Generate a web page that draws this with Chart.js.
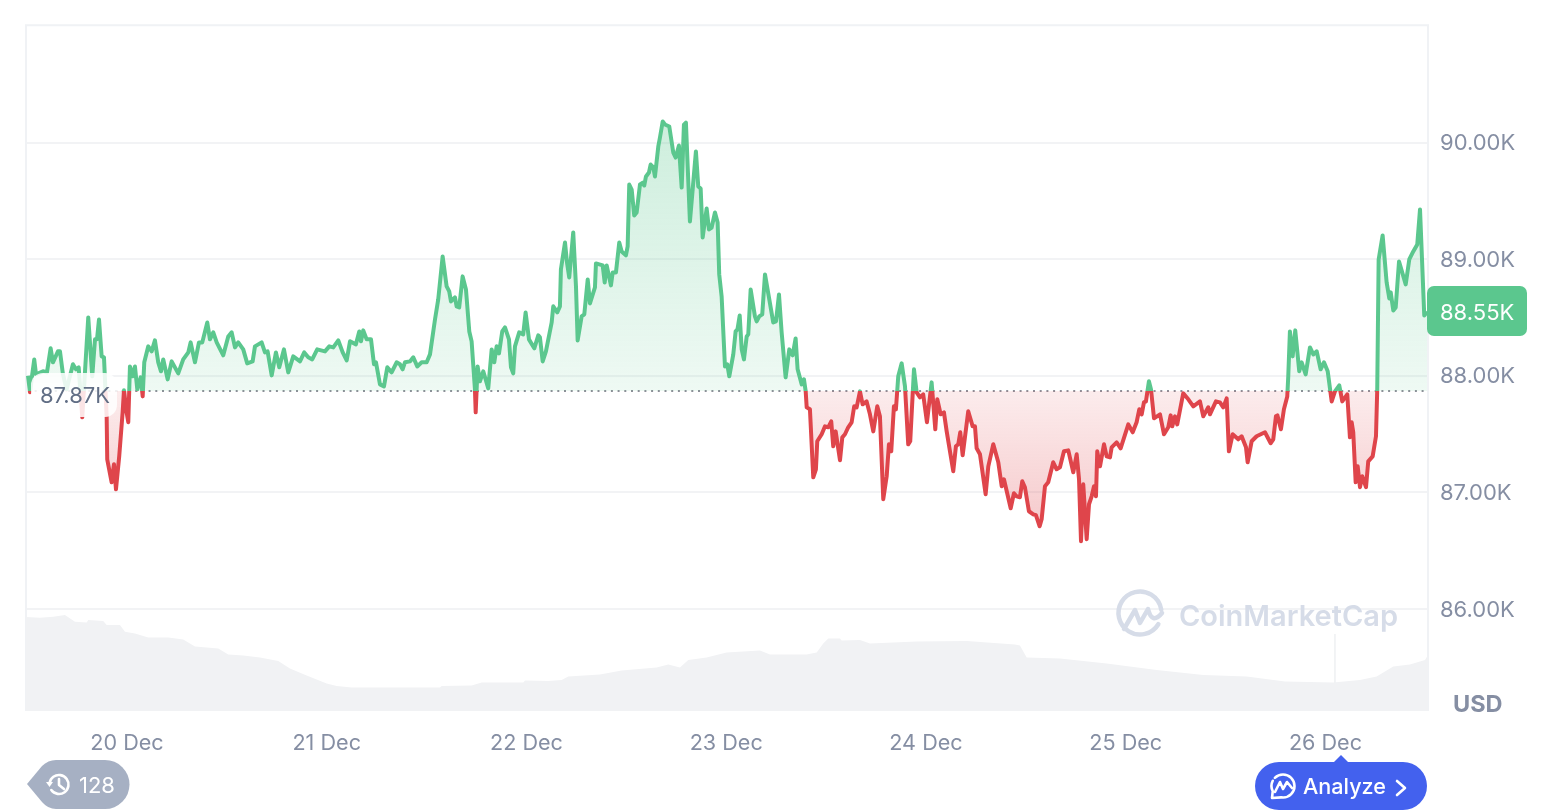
<!DOCTYPE html>
<html>
<head>
<meta charset="utf-8">
<title>BTC price chart</title>
<script src="https://cdn.jsdelivr.net/npm/chart.js@4/dist/chart.umd.min.js"></script>
<style>
    html, body { margin: 0; padding: 0; background: #fff; overflow: hidden; }
    canvas { display: block; }
</style>
</head>
<body>
<canvas id="priceChart" width="1544" height="812"></canvas>
<script>
// Hours counted from 20 Dec 00:00
const priceHours = [
    -11.89, -11.65, -11.41, -11.14, -10.93, -10.09, -9.61, -9.17, -8.89, -8.29,
    -8.05, -7.69, -7.25, -6.49, -6.13, -5.80, -5.37, -5.17, -4.65, -4.17,
    -3.84, -3.60, -3.36, -3.04, -2.76, -2.44, -2.37, -1.84, -1.56, -1.32,
    -0.93, -0.52, -0.36, -0.04, 0.16, 0.36, 0.68, 0.96, 1.24, 1.65,
    1.89, 2.08, 2.56, 2.97, 3.36, 3.76, 4.09, 4.36, 4.89, 5.37,
    6.16, 6.76, 7.37, 7.65, 8.17, 8.65, 9.05, 9.65, 9.97, 10.37,
    10.78, 11.57, 12.17, 12.58, 12.98, 13.37, 13.97, 14.45, 15.10, 15.38,
    16.18, 16.58, 16.90, 17.39, 17.90, 18.30, 18.86, 19.38, 19.98, 20.79,
    21.30, 21.78, 22.26, 22.86, 23.79, 24.31, 24.79, 25.39, 25.92, 26.40,
    26.80, 27.51, 27.91, 28.12, 28.39, 28.80, 29.32, 29.68, 29.92, 30.40,
    30.88, 31.28, 31.80, 32.40, 32.80, 33.12, 33.40, 34.00, 34.40, 34.88,
    35.41, 36.01, 36.41, 37.01, 37.40, 37.93, 38.41, 38.72, 38.93, 39.41,
    39.61, 39.92, 40.33, 40.73, 41.13, 41.41, 41.81, 41.90, 42.13, 42.41,
    42.81, 43.41, 43.82, 44.13, 44.42, 44.70, 45.09, 45.42, 45.90, 46.14,
    46.41, 46.62, 47.13, 47.61, 47.90, 48.30, 48.94, 49.42, 49.62, 49.95,
    50.34, 51.03, 51.22, 51.70, 52.02, 52.14, 52.63, 52.87, 53.14, 53.62,
    53.95, 54.15, 54.63, 54.95, 55.36, 55.63, 56.23, 56.35, 57.16, 57.40,
    57.64, 58.15, 58.36, 58.75, 59.15, 59.44, 59.95, 60.16, 60.35, 60.64,
    60.95, 61.24, 61.64, 62.03, 62.15, 62.36, 62.72, 62.92, 63.24, 63.44,
    63.84, 64.04, 64.37, 64.64, 65.16, 65.64, 65.93, 66.32, 66.65, 66.92,
    67.16, 67.64, 68.36, 68.64, 68.93, 69.17, 69.65, 69.93, 70.25, 70.65,
    70.97, 71.16, 71.45, 71.85, 72.13, 72.37, 72.85, 73.13, 73.35, 73.62,
    73.86, 74.13, 74.46, 74.65, 74.94, 75.45, 75.66, 75.97, 76.33, 76.66,
    77.65, 77.98, 78.34, 78.66, 79.14, 79.58, 79.98, 80.34, 80.58, 81.07,
    81.34, 81.55, 81.67, 82.06, 82.46, 82.78, 82.94, 83.47, 83.87, 84.26,
    84.62, 84.86, 85.15, 85.67, 85.95, 86.27, 86.66, 87.07, 87.38, 87.67,
    88.07, 88.39, 88.87, 89.27, 89.67, 90.15, 90.47, 90.87, 91.28, 91.55,
    91.83, 92.15, 92.39, 92.67, 93.08, 93.48, 93.87, 94.11, 94.56, 94.88,
    95.28, 95.67, 96.12, 96.68, 97.12, 97.36, 97.77, 98.16, 98.49, 99.28,
    99.60, 99.88, 100.12, 100.41, 101.08, 101.61, 101.89, 102.09, 102.49, 103.17,
    103.49, 104.09, 104.69, 105.10, 105.37, 106.18, 106.57, 106.90, 107.29, 107.57,
    107.89, 108.37, 108.89, 109.21, 109.66, 109.90, 110.30, 110.69, 111.29, 111.70,
    112.10, 112.58, 113.10, 113.70, 114.11, 114.39, 114.63, 114.90, 115.31, 115.59,
    115.91, 116.19, 116.43, 116.58, 116.91, 117.39, 117.71, 118.11, 118.31, 118.91,
    119.39, 120.31, 120.84, 121.31, 121.63, 121.92, 122.19, 122.43, 122.79, 123.04,
    123.40, 124.12, 124.60, 125.11, 125.40, 125.59, 125.92, 126.19, 126.91, 127.52,
    128.12, 128.92, 129.32, 129.92, 130.12, 130.84, 131.32, 131.72, 132.13, 132.40,
    132.85, 133.52, 133.93, 134.45, 134.65, 135.13, 135.73, 136.73, 137.42, 137.73,
    138.05, 138.23, 138.65, 139.01, 139.41, 139.53, 139.73, 140.06, 140.37, 140.85,
    141.14, 141.62, 142.14, 142.54, 142.95, 143.42, 143.82, 144.27, 144.75, 145.14,
    145.66, 146.02, 146.62, 146.94, 147.15, 147.34, 147.63, 147.87, 148.15, 148.42,
    148.87, 149.14, 149.67, 150.07, 150.22, 150.39, 150.87, 151.35, 151.67, 151.84,
    152.15, 152.44, 152.84, 153.64, 154.07, 154.55, 155.03, 155.36, 155.87, 156.23
];
const priceValues = [
    88000, 87859, 87996, 88141, 88013, 88039, 88030, 88236, 88116, 88210,
    88210, 88013, 87884, 88099, 88056, 88073, 87644, 87884, 88501, 87996,
    88313, 88313, 88484, 88167, 88159, 87653, 87284, 87087, 87242, 87027,
    87310, 87687, 87876, 87687, 87602, 88081, 87996, 88081, 87884, 87987,
    87824, 88116, 88253, 88210, 88304, 88116, 88039, 88141, 87970, 88124,
    88021, 88141, 88201, 88287, 88116, 88287, 88287, 88458, 88313, 88373,
    88287, 88176, 88338, 88373, 88244, 88287, 88227, 88107, 88124, 88253,
    88287, 88201, 88210, 88004, 88201, 88073, 88227, 88030, 88167, 88124,
    88201, 88159, 88141, 88227, 88210, 88253, 88244, 88304, 88201, 88133,
    88296, 88270, 88381, 88296, 88390, 88313, 88313, 88099, 88116, 87927,
    87910, 88073, 88030, 88116, 88099, 88056, 88116, 88124, 88159, 88081,
    88116, 88116, 88184, 88484, 88656, 89024, 88767, 88724, 88638, 88673,
    88596, 88587, 88853, 88741, 88381, 88296, 87884, 87687, 88081, 87953,
    88039, 87893, 88227, 88116, 88253, 88193, 88381, 88416, 88313, 88073,
    88021, 88253, 88373, 88356, 88544, 88313, 88236, 88347, 88330, 88124,
    88210, 88458, 88596, 88544, 88596, 88913, 89144, 88973, 88844, 89230,
    88767, 88304, 88510, 88527, 88827, 88621, 88758, 88964, 88947, 88801,
    88947, 88776, 88887, 88887, 89144, 89067, 89033, 89110, 89641, 89598,
    89375, 89401, 89641, 89658, 89632, 89710, 89744, 89812, 89787, 89710,
    89967, 90044, 90181, 90155, 90138, 89915, 89872, 89975, 89615, 90155,
    90172, 89324, 89924, 89624, 89607, 89187, 89435, 89255, 89272, 89401,
    89315, 88870, 88681, 88081, 88099, 87996, 88184, 88381, 88398, 88518,
    88227, 88141, 88338, 88356, 88741, 88510, 88467, 88510, 88527, 88870,
    88458, 88467, 88698, 88373, 87987, 88227, 88176, 88321, 88056, 87927,
    87970, 87867, 87730, 87713, 87130, 87199, 87439, 87499, 87567, 87559,
    87610, 87396, 87524, 87276, 87473, 87499, 87559, 87602, 87739, 87730,
    87867, 87756, 87781, 87670, 87524, 87739, 87653, 86942, 87139, 87413,
    87353, 87739, 87713, 87996, 88107, 87910, 87413, 87439, 88056, 87859,
    87816, 87841, 87602, 87944, 87542, 87799, 87670, 87687, 87524, 87182,
    87396, 87413, 87516, 87319, 87696, 87567, 87567, 87379, 87327, 86985,
    87224, 87413, 87259, 87053, 87113, 86865, 86993, 86967, 86959, 87096,
    87045, 86839, 86813, 86805, 86710, 86770, 87053, 87087, 87259, 87199,
    87216, 87353, 87361, 87173, 87327, 87113, 86582, 87070, 86599, 86899,
    86967, 87053, 86967, 87353, 87224, 87413, 87310, 87301, 87387, 87430,
    87379, 87584, 87516, 87602, 87713, 87670, 87773, 87781, 87953, 87884,
    87636, 87670, 87499, 87559, 87661, 87567, 87653, 87584, 87850, 87799,
    87739, 87781, 87653, 87730, 87670, 87781, 87773, 87730, 87807, 87353,
    87499, 87456, 87482, 87387, 87259, 87439, 87482, 87516, 87422, 87456,
    87653, 87661, 87542, 87713, 87824, 87996, 88381, 88167, 88390, 88039,
    88116, 88013, 88244, 88184, 88210, 88056, 88116, 88039, 87781, 87867,
    87919, 87781, 87841, 87473, 87602, 87516, 87087, 87224, 87045, 87139,
    87045, 87267, 87310, 87482, 87884, 88998, 89204, 88801, 88664, 88716,
    88561, 88587, 88981, 88784, 88998, 89067, 89127, 89427, 88518, 88550
];

// Volume strip at the bottom (billions, estimated)
const volumeHours = [
    -12.13, -10.45, -8.85, -7.45, -6.25, -4.84, -4.65, -2.85, -2.44, -0.84,
    -0.24, 0.96, 2.56, 4.96, 6.76, 8.17, 10.97, 12.17, 13.97, 15.98,
    18.18, 19.58, 21.59, 23.99, 25.20, 27.00, 37.61, 37.81, 41.42, 42.62,
    44.82, 47.62, 47.82, 50.62, 52.23, 53.02, 56.83, 59.44, 63.64, 65.04,
    66.44, 67.44, 69.65, 72.05, 76.05, 77.26, 81.66, 82.87, 83.66, 84.26,
    85.67, 85.87, 88.07, 89.27, 94.88, 100.89, 106.69, 107.29, 108.10, 112.10,
    117.71, 123.72, 129.32, 134.53, 139.13, 144.94, 148.15, 150.15, 152.15, 154.15,
    155.96, 156.32
];
const volumeValues = [
    47, 46.6, 47.1, 48, 44.6, 44.3, 45.5, 45, 43, 43,
    39.6, 38.8, 36.7, 36.7, 35.8, 32.2, 31.3, 28.3, 27.7, 26.7,
    25, 21.3, 17.7, 13.8, 12.5, 11.7, 11.7, 12.5, 12.7, 14.2,
    14.3, 14.3, 15.3, 15, 15.5, 17.2, 18.3, 20.2, 21.7, 23.3,
    21.7, 25.5, 26.7, 29.3, 30.3, 28.3, 28.3, 29.3, 33.8, 36.3,
    36.3, 35.3, 35.5, 33.8, 34.7, 35, 33.3, 32.7, 26.7, 26.3,
    23.8, 20.5, 18, 17.2, 14.7, 14.3, 15.5, 17.2, 22.2, 23.3,
    25.5, 28
];
const spikeHour = 145.14;
const spikeVolumes = [14, 38.5];

const basePrice = 87870;
const lastPrice = 88550;
const priceTicks = [86000, 87000, 88000, 89000, 90000];
const dayTicks = [0, 24, 48, 72, 96, 120, 144];
const dayLabels = ['20 Dec', '21 Dec', '22 Dec', '23 Dec', '24 Dec', '25 Dec', '26 Dec'];

const GREEN = '#5bc78e';
const RED = '#df454b';
const TICK = '#858ea3';
const FONT = 'Inter, sans-serif';

function kLabel(v) {
    return (v / 1000).toFixed(2) + 'K';
}

function roundBox(ctx, x, y, w, h, r, color) {
    ctx.fillStyle = color;
    ctx.beginPath();
    ctx.roundRect(x, y, w, h, r);
    ctx.fill();
}

// Watermark, the logo and name sit under the line
function drawWatermark(ctx) {
    ctx.save();
    ctx.strokeStyle = '#d6dce8';
    ctx.lineWidth = 4.5;
    ctx.lineCap = 'round';
    ctx.lineJoin = 'round';
    ctx.beginPath();
    ctx.arc(1140, 613, 21.5, 0.55, Math.PI * 2 - 0.15);
    ctx.stroke();
    ctx.beginPath();
    ctx.moveTo(1124, 629);
    ctx.lineTo(1135, 610);
    ctx.lineTo(1140, 623);
    ctx.lineTo(1148, 609);
    ctx.quadraticCurveTo(1152, 625, 1162, 613);
    ctx.stroke();
    ctx.fillStyle = '#d6dce8';
    ctx.font = '600 29px ' + FONT;
    ctx.textAlign = 'left';
    ctx.textBaseline = 'middle';
    ctx.fillText('CoinMarketCap', 1179, 617);
    ctx.restore();
}

const framePlugin = {
    id: 'frame',
    beforeDatasetsDraw: (chart) => {
        const ctx = chart.ctx;
        const a = chart.chartArea;
        ctx.save();
        ctx.strokeStyle = '#f0f2f5';
        ctx.lineWidth = 2;
        ctx.beginPath();
        ctx.moveTo(a.left, a.bottom);
        ctx.lineTo(a.left, a.top);
        ctx.lineTo(a.right, a.top);
        ctx.lineTo(a.right, a.bottom);
        ctx.stroke();
        ctx.restore();
        drawWatermark(ctx);
    }
};

// Labels and buttons around the plot
const badgesPlugin = {
    id: 'badges',
    afterDraw: (chart) => {
        const ctx = chart.ctx;
        const y = chart.scales.y;
        ctx.save();
        ctx.textBaseline = 'middle';
        ctx.textAlign = 'left';

        // start price label over the line
        roundBox(ctx, 31, 373, 86, 44, 12, 'rgba(255,255,255,0.86)');
        ctx.fillStyle = '#616e85';
        ctx.font = '22px ' + FONT;
        ctx.fillText(kLabel(basePrice), 40, 396);

        // last price label
        roundBox(ctx, 1427, 286, 100, 50, 7, GREEN);
        ctx.fillStyle = '#fff';
        ctx.fillText(kLabel(lastPrice), 1440, y.getPixelForValue(lastPrice) + 2);

        ctx.fillStyle = TICK;
        ctx.font = '700 23.5px ' + FONT;
        ctx.fillText('USD', 1453, 705);

        // 128 tag
        ctx.fillStyle = '#a6b0c3';
        ctx.beginPath();
        ctx.moveTo(27, 784);
        ctx.lineTo(42, 766);
        ctx.quadraticCurveTo(48, 760, 56, 760);
        ctx.lineTo(105, 760);
        ctx.arc(105, 784.5, 24.5, -Math.PI / 2, Math.PI / 2);
        ctx.lineTo(56, 809);
        ctx.quadraticCurveTo(48, 809, 42, 802);
        ctx.closePath();
        ctx.fill();
        ctx.strokeStyle = '#fff';
        ctx.lineWidth = 2.6;
        ctx.lineCap = 'round';
        ctx.lineJoin = 'round';
        ctx.beginPath();
        ctx.arc(59, 784.5, 9.5, Math.PI * 1.05, Math.PI * 0.8);
        ctx.stroke();
        ctx.beginPath();
        ctx.moveTo(59, 779);
        ctx.lineTo(59, 785);
        ctx.lineTo(64, 789);
        ctx.stroke();
        ctx.fillStyle = '#fff';
        ctx.beginPath();
        ctx.moveTo(46, 782);
        ctx.lineTo(53, 782);
        ctx.lineTo(49.5, 787);
        ctx.closePath();
        ctx.fill();
        ctx.font = '22px ' + FONT;
        ctx.fillText('128', 79, 786);

        // Analyze button
        ctx.fillStyle = '#4361ee';
        ctx.beginPath();
        ctx.moveTo(1334, 762);
        ctx.lineTo(1341, 755);
        ctx.lineTo(1348, 762);
        ctx.closePath();
        ctx.fill();
        roundBox(ctx, 1255, 762, 172, 48, 24, '#4361ee');
        ctx.strokeStyle = '#fff';
        ctx.lineWidth = 2.6;
        ctx.beginPath();
        ctx.arc(1283, 786, 11.5, -Math.PI * 0.75, Math.PI * 0.55);
        ctx.lineTo(1272, 798);
        ctx.arc(1283, 786, 11.5, Math.PI * 0.85, Math.PI * 1.15);
        ctx.stroke();
        ctx.beginPath();
        ctx.moveTo(1275, 792);
        ctx.lineTo(1280, 782);
        ctx.lineTo(1283, 789);
        ctx.lineTo(1287, 782);
        ctx.lineTo(1292, 788);
        ctx.stroke();
        ctx.fillStyle = '#fff';
        ctx.font = '500 21.6px ' + FONT;
        ctx.fillText('Analyze', 1303, 787);
        ctx.beginPath();
        ctx.moveTo(1397, 781);
        ctx.lineTo(1405, 788);
        ctx.lineTo(1397, 795);
        ctx.stroke();
        ctx.restore();
    }
};

const ctx = document.getElementById('priceChart').getContext('2d');
const chart = new Chart(ctx, {
    type: 'line',
    data: {
        datasets: [
            {
                label: 'Price',
                data: priceHours.map((h, i) => ({ x: h, y: priceValues[i] })),
                yAxisID: 'y',
                borderColor: GREEN,
                borderWidth: 4,
                borderJoinStyle: 'round',
                pointRadius: 0,
                tension: 0,
                fill: { value: basePrice, above: 'rgba(91,199,142,0.2)', below: 'rgba(223,69,75,0.2)' },
                order: 0
            },
            {
                label: 'Base',
                data: [{ x: priceHours[0], y: basePrice }, { x: 156.32, y: basePrice }],
                yAxisID: 'y',
                borderColor: '#8d8f98',
                borderWidth: 2,
                borderDash: [2, 4.7],
                pointRadius: 0,
                order: 1
            },
            {
                label: 'Volume',
                data: volumeHours.map((h, i) => ({ x: h, y: volumeValues[i] })),
                yAxisID: 'yVolume',
                borderWidth: 0,
                backgroundColor: '#f1f2f4',
                pointRadius: 0,
                tension: 0,
                fill: 'origin',
                order: 2
            },
            {
                label: 'Spike',
                data: spikeVolumes.map(v => ({ x: spikeHour, y: v })),
                yAxisID: 'yVolume',
                borderColor: '#eef0f2',
                borderWidth: 1.5,
                pointRadius: 0,
                order: 3
            }
        ]
    },
    options: {
        responsive: false,
        animation: false,
        layout: { padding: { left: 26, top: 25, right: 0, bottom: 0 } },
        plugins: { legend: { display: false }, tooltip: { enabled: false } },
        scales: {
            x: {
                type: 'linear',
                min: -12.13,
                max: 156.32,
                grid: { display: false },
                border: { display: false },
                afterBuildTicks: (scale) => { scale.ticks = dayTicks.map(v => ({ value: v })); },
                afterFit: (scale) => { scale.height = 101; },
                ticks: {
                    autoSkip: false,
                    maxRotation: 0,
                    padding: 12,
                    color: TICK,
                    font: { family: 'Inter', size: 21.6 },
                    callback: (v) => dayLabels[dayTicks.indexOf(v)]
                }
            },
            y: {
                position: 'right',
                min: 85126,
                max: 91007,
                grid: { color: '#f2f3f5', lineWidth: 2, drawTicks: false },
                border: { display: false },
                afterBuildTicks: (scale) => { scale.ticks = priceTicks.map(v => ({ value: v })); },
                afterFit: (scale) => { scale.width = 116; },
                ticks: {
                    padding: 12,
                    labelOffset: 1,
                    color: TICK,
                    font: { family: 'Inter', size: 22 },
                    callback: (v) => kLabel(v)
                }
            },
            yVolume: {
                display: false,
                min: 0,
                max: 343
            }
        }
    },
    plugins: [framePlugin, badgesPlugin]
});

// Line and fill change colour at the base price, these need the real pixel positions
function applyGradients(chart) {
    const y = chart.scales.y;
    const c = chart.ctx;
    const baseY = y.getPixelForValue(basePrice);
    const stop = (baseY - chart.chartArea.top) / chart.chartArea.height;

    const stroke = c.createLinearGradient(0, chart.chartArea.top, 0, chart.chartArea.bottom);
    stroke.addColorStop(0, GREEN);
    stroke.addColorStop(stop, GREEN);
    stroke.addColorStop(stop, RED);
    stroke.addColorStop(1, RED);

    const above = c.createLinearGradient(0, y.getPixelForValue(Math.max(...priceValues)), 0, baseY);
    above.addColorStop(0, 'rgba(91,199,142,0.30)');
    above.addColorStop(1, 'rgba(91,199,142,0.10)');

    const below = c.createLinearGradient(0, baseY, 0, y.getPixelForValue(Math.min(...priceValues)));
    below.addColorStop(0, 'rgba(223,69,75,0.10)');
    below.addColorStop(1, 'rgba(223,69,75,0.30)');

    const price = chart.data.datasets[0];
    price.borderColor = stroke;
    price.fill = { value: basePrice, above: above, below: below };
    chart.update('none');
}
applyGradients(chart);
</script>
</body>
</html>
